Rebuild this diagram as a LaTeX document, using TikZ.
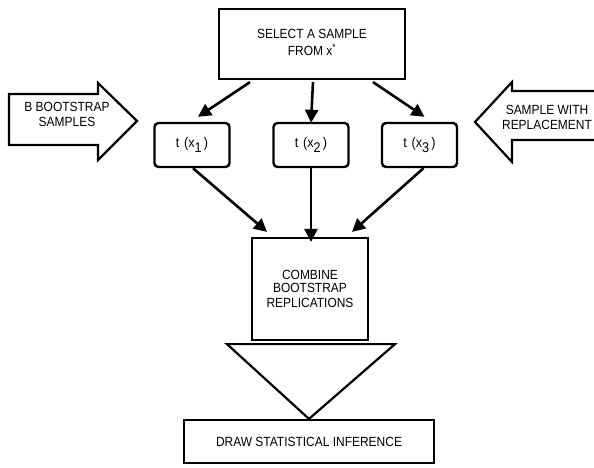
\documentclass[tikz,border=0pt]{standalone}
\usepackage{fontspec}
\setmainfont{Liberation Sans}[FakeStretch=0.9]
\usetikzlibrary{arrows.meta,calc}
\newcommand\lowdig[1]{\raisebox{-4.5pt}{#1}}
\begin{document}
\begin{tikzpicture}[x=1pt,y=-1pt,
  every node/.style={font=\fontsize{13.3}{15}\selectfont, inner sep=0pt},
  sqbox/.style={draw,line width=2.2pt,align=center},
  tbox/.style={draw,line width=2.4pt,rounded corners=4pt,minimum width=75pt,minimum height=44pt,font=\fontsize{14}{16}\selectfont},
  blk/.style={draw,line width=2.2pt,line join=miter},
  arr/.style={line width=2.6pt,-{Triangle[length=13pt,width=13pt]}}]
\useasboundingbox (0,0) rectangle (594,468);
\fill[white] (0,0) rectangle (594,468);
% top box
\node[sqbox,minimum width=186pt,minimum height=70pt] (top) at (312,44)
  {\raisebox{-3pt}{\begin{tabular}{@{}c@{}}SELECT A SAMPLE\\[1pt]FROM x\textsuperscript{*}\end{tabular}}};
% small boxes
\node[tbox] (b1) at (192,145) {t\,\,(x\lowdig{1}\,)};
\node[tbox] (b2) at (311,145) {t\,\,(x\lowdig{2}\,)};
\node[tbox] (b3) at (419.5,145) {t\,\,(x\lowdig{3}\,)};
% combine box
\node[sqbox,minimum width=116pt,minimum height=102pt] (comb) at (310,289)
  {COMBINE\\[-1.5pt]BOOTSTRAP\\[0pt]REPLICATIONS};
% bottom box
\node[sqbox,minimum width=250pt,minimum height=43pt] (inf) at (309,441.5)
  {DRAW STATISTICAL INFERENCE};
% down block arrow head
\draw[blk] ([shift={(-83,3)}]comb.south) -- ([shift={(85,3)}]comb.south) -- (inf.north) -- cycle;
% left block arrow
\draw[blk] (9,94) -- (98,94) -- (98,83) -- (137,121) -- (98,160) -- (98,145) -- (9,145) -- cycle;
\node[align=center] (bs) at (67,114) {B BOOTSTRAP\\[0pt]SAMPLES};
% right block arrow
\draw[blk] (600,91) -- (512,91) -- (512,82) -- (475,122) -- (512,162) -- (512,140) -- (600,140);
\node[align=center] (sr) at (547,117) {SAMPLE WITH\\[0pt]REPLACEMENT};
% arrows from top box
\draw[arr] ([shift={(-62,2)}]top.south) -- ([shift={(6,-5)}]b1.north);
\draw[arr] ([shift={(1,2)}]top.south) -- ([yshift=-1]b2.north);
\draw[arr] ([shift={(61,2)}]top.south) -- ([shift={(5,-5)}]b3.north);
% arrows to combine box
\draw[arr] ([xshift=1]b1.south) -- ([shift={(-43,-5)}]comb.north);
\draw[arr] (b2.south) -- ([yshift=-5]b2.south |- comb.north);
\draw[arr] ([xshift=4]b3.south) -- ([shift={(42,-5)}]comb.north);
\end{tikzpicture}
\end{document}
